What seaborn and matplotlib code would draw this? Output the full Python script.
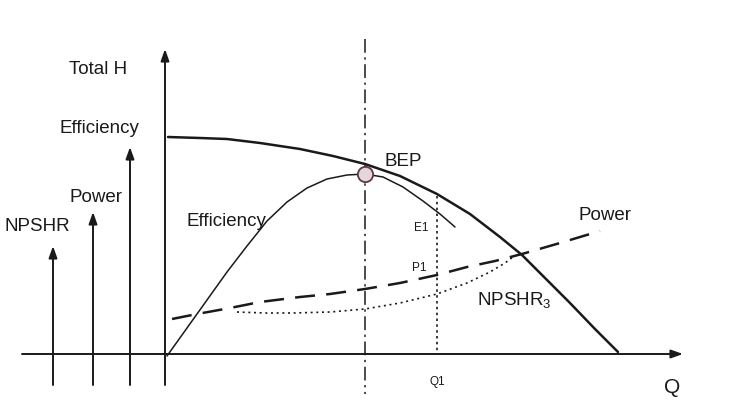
import numpy as np
import pandas as pd
import matplotlib.pyplot as plt
import seaborn as sns

# Values (pixel-like units, y grows downward)
head_q = [168, 200, 227, 260, 300, 333, 365, 400, 437, 470, 500, 522, 545, 570, 595, 618]
head_h = [138, 139, 140, 144, 150, 157, 165, 177, 195, 215, 238, 256, 279, 304, 330, 353]

eff_q = [167, 182, 197, 212, 227, 247, 267, 287, 307, 327, 347, 365, 383, 403, 423, 440, 455]
eff_v = [357, 336, 315, 294, 273, 247, 222, 203, 189, 180, 176, 175, 178, 188, 202, 215, 228]

power_q = [172, 197, 230, 260, 300, 330, 365, 400, 437, 467, 495, 522, 560, 600]
power_v = [320, 315, 309, 303, 298, 295, 290, 284, 276, 268, 262, 255, 244, 232]

npshr_q = [237, 265, 293, 330, 365, 400, 437, 467, 490, 505, 513]
npshr_v = [313, 314, 314, 313, 310, 304, 295, 284, 273, 264, 258]

bep_q, bep_h = 365, 175
q1 = 437

# left-hand quantity arrows: name, x position, arrow top
side_names = ["NPSHR", "Power", "Efficiency", "Total H"]
side_x = [53, 93, 130, 165]
side_top = [247, 213, 148, 50]

sns.set_style("white")
plt.rcParams["font.family"] = ["Liberation Sans", "DejaVu Sans"]
plt.rcParams["lines.solid_joinstyle"] = "round"

fig = plt.figure(figsize=(7.52, 4.10), dpi=100)
ax = fig.add_axes([0, 0, 1, 1])
ax.set_xlim(0, 752)
ax.set_ylim(410, 0)
ax.axis("off")

ink = "#1a1a1a"

# axes arrows
for x, top in zip(side_x, side_top):
    ax.annotate("", xy=(x, top), xytext=(x, 386),
                arrowprops=dict(arrowstyle="-|>,head_length=0.7,head_width=0.25",
                                color=ink, lw=1.4, shrinkA=0, shrinkB=0))
ax.annotate("", xy=(683, 355), xytext=(22, 355),
            arrowprops=dict(arrowstyle="-|>,head_length=0.7,head_width=0.25",
                            color=ink, lw=1.4, shrinkA=0, shrinkB=0))

# curves
sns.lineplot(x=head_q, y=head_h, ax=ax, color=ink, lw=1.8, sort=False)
sns.lineplot(x=eff_q, y=eff_v, ax=ax, color=ink, lw=1.1, sort=False)
sns.lineplot(x=power_q, y=power_v, ax=ax, color=ink, lw=1.8, sort=False,
             dashes=False, linestyle=(0, (8, 4.5)))
sns.lineplot(x=npshr_q, y=npshr_v, ax=ax, color=ink, lw=1.2, sort=False,
             linestyle=(0, (1.2, 2.2)))

# BEP and Q1 verticals
ax.plot([bep_q, bep_q], [40, 395], color=ink, lw=1.1, linestyle=(0, (9, 3, 1.5, 3)))
ax.plot([q1, q1], [197, 355], color=ink, lw=1.2, linestyle=(0, (1.5, 2)))
ax.plot([bep_q], [bep_h], marker="o", ms=11, mfc="#e6d6da", mec="#5a3a44", mew=1.3)

# labels
fs = 13.5
ax.text(98, 70, "Total H", fontsize=fs, ha="center", va="center", color=ink)
ax.text(99, 129, "Efficiency", fontsize=fs, ha="center", va="center", color=ink)
ax.text(96, 198, "Power", fontsize=fs, ha="center", va="center", color=ink)
ax.text(37, 227, "NPSHR", fontsize=fs, ha="center", va="center", color=ink)
ax.text(226, 222, "Efficiency", fontsize=fs, ha="center", va="center", color=ink)
ax.text(403, 162, "BEP", fontsize=13.5, ha="center", va="center", color=ink)
ax.text(421, 228, "E1", fontsize=8.5, ha="center", va="center", color=ink)
ax.text(419, 268, "P1", fontsize=8.5, ha="center", va="center", color=ink)
ax.text(437, 382, "Q1", fontsize=8.5, ha="center", va="center", color=ink)
ax.text(605, 216, "Power", fontsize=fs, ha="center", va="center", color=ink)
ax.text(514, 301, r"NPSHR$_\mathregular{3}$", fontsize=fs, ha="center", va="center", color=ink)
ax.text(672, 388, "Q", fontsize=15, ha="center", va="center", color=ink)

fig.savefig("out.png", dpi=100)
